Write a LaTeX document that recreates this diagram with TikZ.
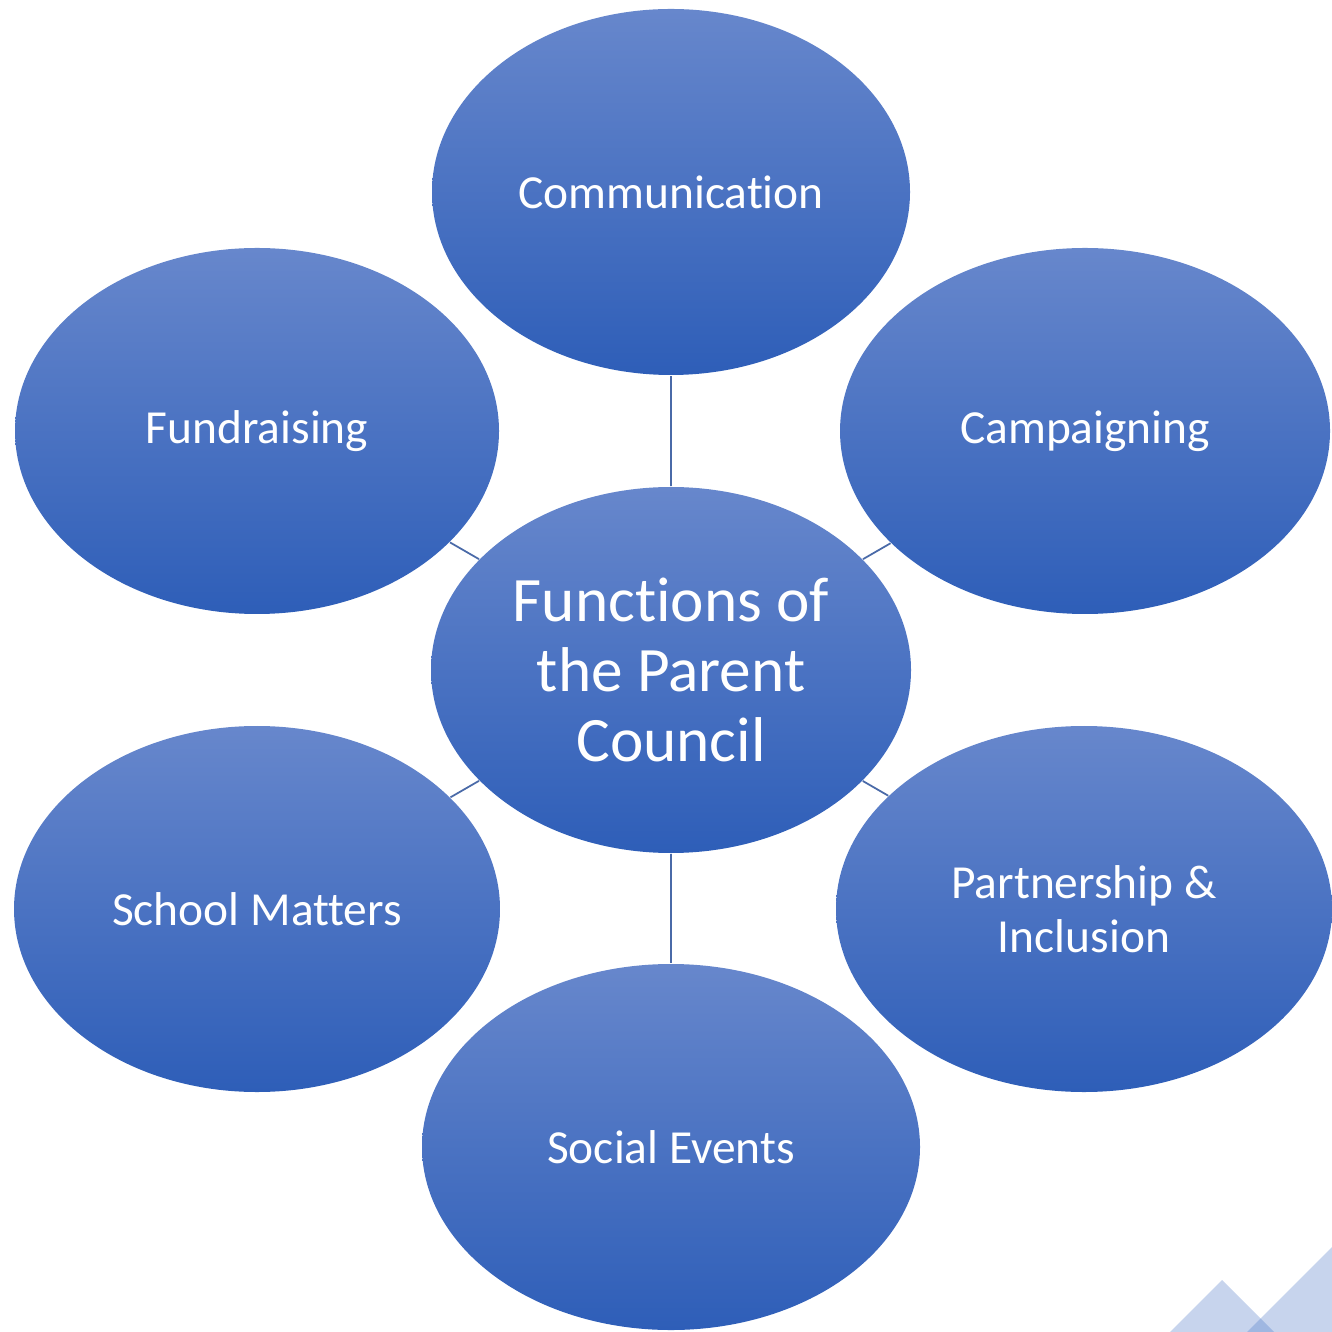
\documentclass[tikz,border=0pt]{standalone}
\usepackage{fontspec}
\setmainfont[RawFeature={-liga;-clig;-calt;-dlig;-rlig}]{Carlito}
\usepackage{tikz}
\usetikzlibrary{shapes.geometric}
\definecolor{blobtop}{HTML}{6787CC}
\definecolor{blobbot}{HTML}{2E5EB8}
\definecolor{linkcol}{HTML}{4A6AA8}
\definecolor{accent}{HTML}{4472C4}
\tikzset{%
    blob/.style={%
        ellipse, inner sep=0pt, minimum height=3.66cm,
        top color=blobtop, bottom color=blobbot, draw=none,
        text=white, align=center, font=\fontsize{13.5}{15.5}\selectfont
    },
    link/.style={draw=linkcol, line width=0.5pt}
}

\begin{document}
\begin{tikzpicture}
\useasboundingbox (0,0) rectangle (13.32,-13.32);
% corner decoration
\begin{scope}
    \clip (0,0) rectangle (13.32,-13.32);
    \fill[accent, opacity=0.3] (11.70,-13.32) -- (12.22,-12.80) -- (12.74,-13.32) -- cycle;
    \fill[accent, opacity=0.3] (12.47,-13.32) -- (13.32,-12.47) -- (13.32,-13.32) -- cycle;
\end{scope}
% bubbles
\node[blob, minimum width=4.80cm, font=\fontsize{18}{20}\selectfont] (council) at (6.71,-6.70) {Functions of\\the Parent\\Council};
\node[blob, minimum width=4.78cm] (comm)   at (6.71,-1.92)  {Communication};
\node[blob, minimum width=4.84cm] (fund)   at (2.57,-4.31)  {Fundraising};
\node[blob, minimum width=4.90cm] (camp)   at (10.85,-4.31) {Campaigning};
\node[blob, minimum width=4.86cm] (school) at (2.57,-9.09)  {School Matters};
\node[blob, minimum width=4.96cm] (part)   at (10.84,-9.09) {Partnership \&\\Inclusion};
\node[blob, minimum width=4.98cm] (social) at (6.71,-11.47) {Social Events};
% spokes
\foreach \b in {comm,fund,camp,school,part,social}
    \draw[link] (council) -- (\b);
\end{tikzpicture}
\end{document}
